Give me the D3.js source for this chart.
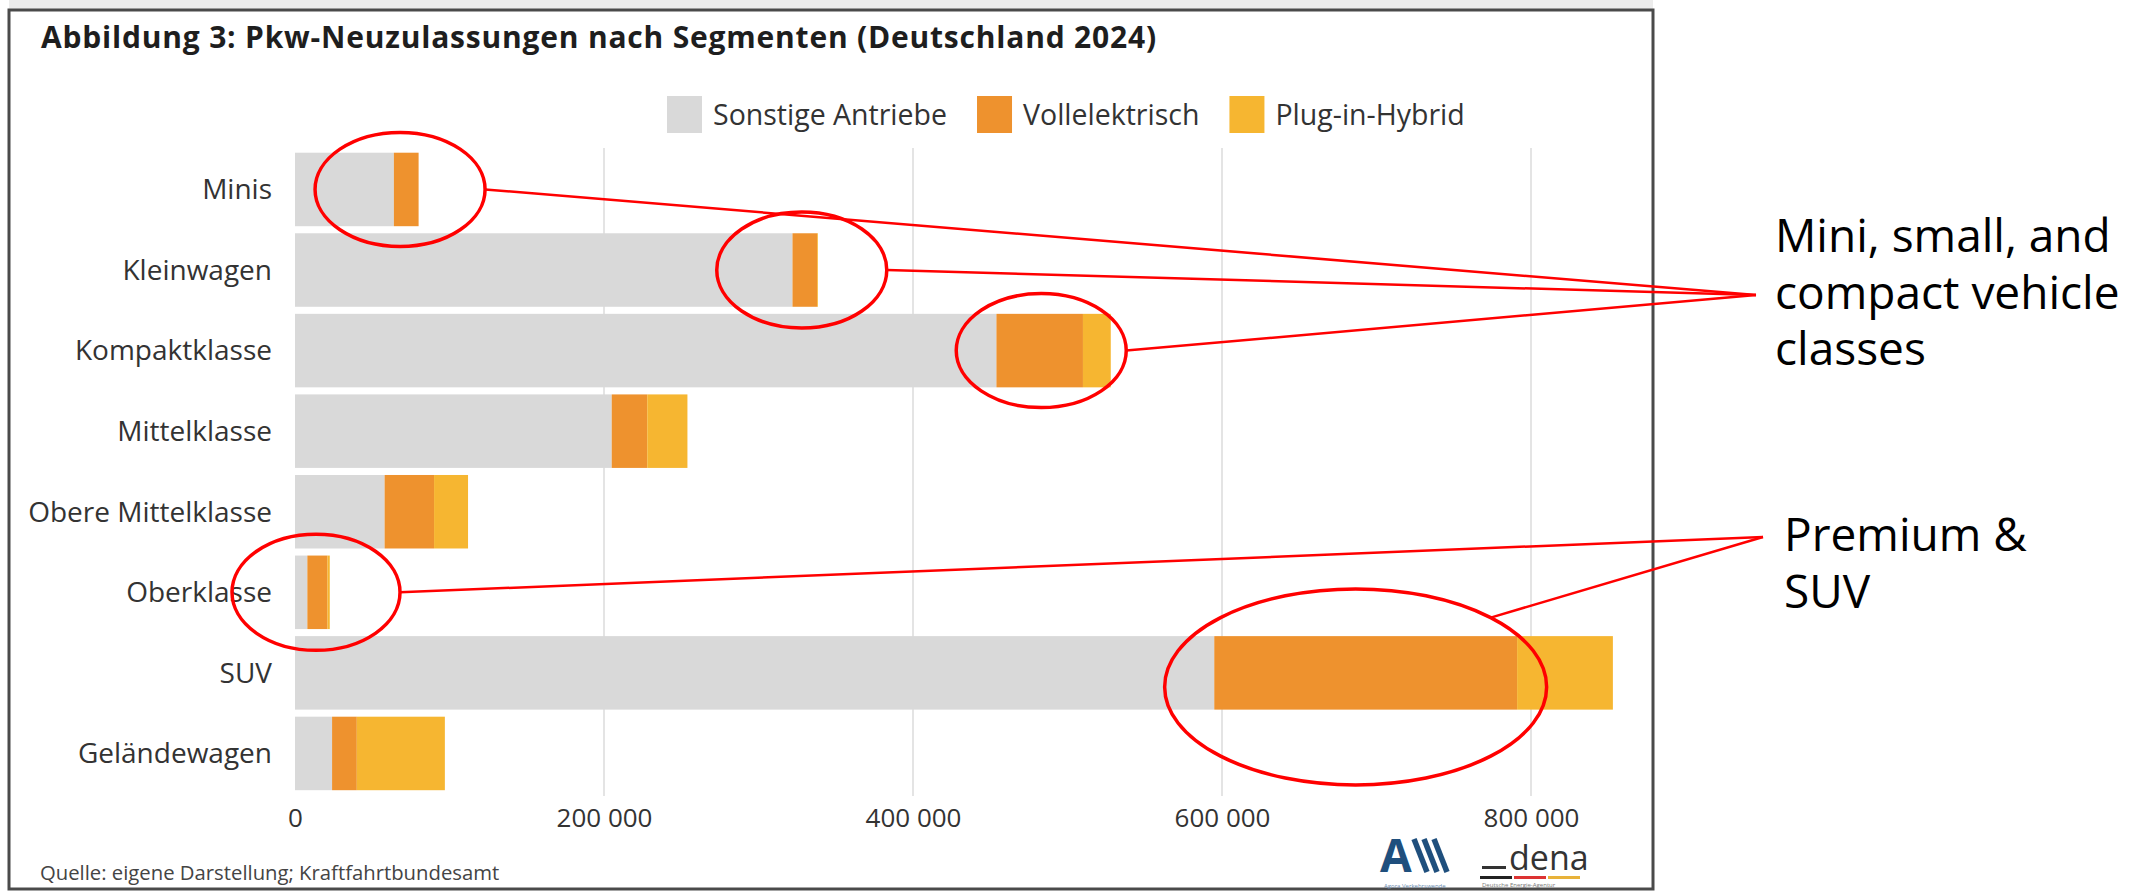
<!DOCTYPE html>
<html>

<head>
  <meta charset="utf-8">
  <title>Pkw-Neuzulassungen nach Segmenten</title>
  <style>
    body { margin: 0; background: #fff; }
    text { font-family: "Open Sans", "Noto Sans", sans-serif; }
  </style>
</head>

<body>
  <svg width="2149" height="892"></svg>
  <script src="https://d3js.org/d3.v7.min.js"></script>
  <script>
    // 1. Daten (aus dem Bild geschätzt)
    var categories = ["Minis", "Kleinwagen", "Kompaktklasse", "Mittelklasse",
      "Obere Mittelklasse", "Oberklasse", "SUV", "Geländewagen"];
    var sonstige = [64000, 322000, 454000, 205000, 58000, 8000, 595000, 24000];
    var vollelektrisch = [16000, 16000, 56000, 23000, 32000, 13000, 196000, 16000];
    var plugInHybrid = [0, 500, 18000, 26000, 22000, 1500, 62000, 57000];
    var seriesKeys = ["sonstige", "bev", "phev"];
    var seriesLabels = ["Sonstige Antriebe", "Vollelektrisch", "Plug-in-Hybrid"];
    var seriesColors = ["#d9d9d9", "#ee922e", "#f6b631"];
    var xTicks = [0, 200000, 400000, 600000, 800000];

    var svg = d3.select("svg");

    var rows = categories.map(function (c, i) {
      return { cat: c, sonstige: sonstige[i], bev: vollelektrisch[i], phev: plugInHybrid[i] };
    });

    // 2. Rahmen
    svg.append("rect").attr("x", 9).attr("y", 0).attr("width", 1644).attr("height", 9)
      .attr("fill", "#ececec");
    svg.append("rect")
      .attr("x", 9).attr("y", 10).attr("width", 1644).attr("height", 879)
      .attr("fill", "#fff").attr("stroke", "#4a4a4a").attr("stroke-width", 3);

    svg.append("text")
      .attr("x", 41).attr("y", 48)
      .attr("font-size", 30).attr("font-weight", 700).attr("letter-spacing", 0.8)
      .attr("fill", "#1e1e1e")
      .text("Abbildung 3: Pkw-Neuzulassungen nach Segmenten (Deutschland 2024)");

    // 3. Skalen
    var x = d3.scaleLinear().domain([0, 800000]).range([295, 1531]);
    var y = d3.scaleBand().domain(categories).range([152.7, 790.2])
      .paddingInner(0.0877).paddingOuter(0);
    var color = d3.scaleOrdinal().domain(seriesKeys).range(seriesColors);

    // Gitterlinien
    svg.append("g")
      .selectAll("line")
      .data(xTicks.slice(1))
      .enter()
      .append("line")
      .attr("x1", function (d) { return x(d); })
      .attr("x2", function (d) { return x(d); })
      .attr("y1", 148).attr("y2", 796)
      .attr("stroke", "#e4e4e4").attr("stroke-width", 2);

    // Balken
    var stacked = d3.stack().keys(seriesKeys)(rows);
    svg.append("g")
      .selectAll("g")
      .data(stacked)
      .enter()
      .append("g")
      .attr("fill", function (d) { return color(d.key); })
      .selectAll("rect")
      .data(function (d) { return d; })
      .enter()
      .append("rect")
      .attr("x", function (d) { return x(d[0]); })
      .attr("y", function (d) { return y(d.data.cat); })
      .attr("width", function (d) { return Math.max(0, x(d[1]) - x(d[0])); })
      .attr("height", y.bandwidth());

    // Kategorien
    svg.append("g")
      .selectAll("text")
      .data(categories)
      .enter()
      .append("text")
      .attr("x", 272)
      .attr("y", function (d) { return y(d) + y.bandwidth() / 2; })
      .attr("dy", "0.35em")
      .attr("text-anchor", "end")
      .attr("font-size", 28).attr("fill", "#333")
      .text(function (d) { return d; });

    // x-Achse
    var fmt = function (d) { return d3.format(",")(d).replace(/,/g, " "); };
    var xAxis = svg.append("g")
      .attr("transform", "translate(0,809)")
      .call(d3.axisBottom(x).tickValues(xTicks).tickSize(0).tickPadding(0).tickFormat(fmt));
    xAxis.select(".domain").remove();
    xAxis.selectAll("text").attr("font-size", 26).attr("fill", "#333")
      .attr("font-family", "'Open Sans', sans-serif");

    // Legende
    var lx = 667;
    var legend = svg.append("g");
    seriesKeys.forEach(function (k, i) {
      legend.append("rect").attr("x", lx).attr("y", 96).attr("width", 35).attr("height", 37)
        .attr("fill", color(k));
      var t = legend.append("text").attr("x", lx + 46).attr("y", 125)
        .attr("font-size", 28.5).attr("fill", "#333").text(seriesLabels[i]);
      lx = lx + 46 + t.node().getComputedTextLength() + 30;
    });

    // Quelle
    svg.append("text").attr("x", 40).attr("y", 880)
      .attr("font-size", 20.3).attr("fill", "#444")
      .text("Quelle: eigene Darstellung; Kraftfahrtbundesamt");

    // Logos
    var logo = svg.append("g").attr("fill", "#1f4f7d");
    logo.append("text").attr("x", 1380).attr("y", 872)
      .attr("font-family", "'Liberation Sans', sans-serif")
      .attr("font-size", 46).attr("font-weight", 700).text("A");
    [0, 1, 2].forEach(function (i) {
      logo.append("line")
        .attr("x1", 1414 + i * 10).attr("y1", 839)
        .attr("x2", 1427 + i * 10).attr("y2", 872)
        .attr("stroke", "#1f4f7d").attr("stroke-width", 5.5);
    });
    logo.append("text").attr("x", 1384).attr("y", 888).attr("font-size", 6).attr("fill", "#6a8bb0")
      .attr("font-family", "'Liberation Sans', sans-serif")
      .text("Agora Verkehrswende");

    svg.append("rect").attr("x", 1482).attr("y", 866).attr("width", 24).attr("height", 3)
      .attr("fill", "#333");
    svg.append("text").attr("x", 1509).attr("y", 870)
      .attr("font-family", "'Liberation Sans', sans-serif")
      .attr("font-size", 34).attr("fill", "#333").text("dena");
    ["#222", "#d33", "#e8b23a"].forEach(function (c, i) {
      svg.append("rect").attr("x", 1480 + i * 34).attr("y", 876).attr("width", 32).attr("height", 3)
        .attr("fill", c);
    });
    svg.append("text").attr("x", 1482).attr("y", 887).attr("font-size", 6).attr("fill", "#777")
      .attr("font-family", "'Liberation Sans', sans-serif")
      .text("Deutsche Energie-Agentur");

    // 4. Anmerkungen (rote Ellipsen und Linien)
    var notes = [
      { cat: "Minis", at: 68000, rx: 85, ry: 57, dy: 0, angle: 0, target: 0 },
      { cat: "Kleinwagen", at: 328000, rx: 85, ry: 58, dy: 0, angle: 0, target: 0 },
      { cat: "Kompaktklasse", at: 483000, rx: 85, ry: 57, dy: 0, angle: 0, target: 0 },
      { cat: "Oberklasse", at: 13600, rx: 84, ry: 58, dy: 0, angle: 0, target: 1 },
      { cat: "SUV", at: 686500, rx: 191, ry: 98, dy: 14, angle: -45, target: 1 }
    ];
    var targets = [[1756, 295], [1763, 537]];

    var ann = svg.append("g").attr("fill", "none").attr("stroke", "#f00");
    notes.forEach(function (n) {
      var cx = x(n.at);
      var cy = y(n.cat) + y.bandwidth() / 2 + n.dy;
      ann.append("ellipse").attr("cx", cx).attr("cy", cy).attr("rx", n.rx).attr("ry", n.ry)
        .attr("stroke-width", 3.5);
      var a = n.angle * Math.PI / 180;
      ann.append("line")
        .attr("x1", cx + n.rx * Math.cos(a)).attr("y1", cy + n.ry * Math.sin(a))
        .attr("x2", targets[n.target][0]).attr("y2", targets[n.target][1])
        .attr("stroke-width", 2.5);
    });

    var noteText = [
      { x: 1775, y: 252, lines: ["Mini, small, and", "compact vehicle", "classes"] },
      { x: 1784, y: 551, lines: ["Premium &", "SUV"] }
    ];
    noteText.forEach(function (t) {
      var el = svg.append("text").attr("x", t.x).attr("y", t.y)
        .attr("font-size", 46).attr("fill", "#000");
      t.lines.forEach(function (l, i) {
        el.append("tspan").attr("x", t.x).attr("dy", i === 0 ? 0 : 56.5).text(l);
      });
    });
  </script>
</body>

</html>
